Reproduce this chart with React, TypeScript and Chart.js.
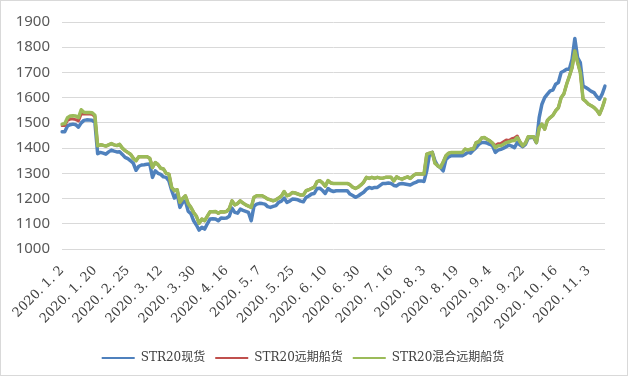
import React, { useEffect, useRef } from "react";
import { Chart, registerables } from "chart.js";

Chart.register(...registerables);

const tickLabels = [
  "2020. 1. 2", "2020. 1. 20", "2020. 2. 25", "2020. 3. 12", "2020. 3. 30",
  "2020. 4. 16", "2020. 5. 7", "2020. 5. 25", "2020. 6. 10", "2020. 6. 30",
  "2020. 7. 16", "2020. 8. 3", "2020. 8. 19", "2020. 9. 4", "2020. 9. 22",
  "2020. 10. 16", "2020. 11. 3",
];
const tickEvery = 12;

const seriesNames = ["STR20现货", "STR20远期船货", "STR20混合远期船货"];

const spot = [
  1465, 1465, 1488, 1493, 1495, 1493, 1483, 1500, 1510, 1512, 1511, 1510, 1502, 1378, 1383, 1380, 1376, 1385, 1392, 1388,
  1385, 1386, 1375, 1363, 1358, 1350, 1340, 1312, 1328, 1333, 1334, 1336, 1337, 1284, 1310, 1300, 1296, 1286, 1284, 1270,
  1232, 1202, 1218, 1165, 1185, 1191, 1150, 1140, 1112, 1095, 1075, 1086, 1079, 1100, 1119, 1120, 1119, 1112, 1123, 1122,
  1123, 1130, 1162, 1145, 1142, 1158, 1153, 1149, 1145, 1112, 1170, 1178, 1181, 1180, 1178, 1168, 1165, 1169, 1172, 1185,
  1190, 1202, 1185, 1190, 1198, 1197, 1195, 1190, 1187, 1205, 1210, 1218, 1220, 1240, 1241, 1232, 1220, 1240, 1232, 1228,
  1231, 1231, 1231, 1231, 1231, 1218, 1212, 1205, 1210, 1218, 1225, 1237, 1244, 1240, 1244, 1244, 1252, 1260, 1260, 1262,
  1260, 1252, 1250, 1258, 1260, 1258, 1256, 1254, 1260, 1264, 1270, 1270, 1268, 1310, 1375, 1383, 1350, 1330, 1323, 1310,
  1355, 1365, 1370, 1370, 1370, 1370, 1370, 1376, 1383, 1380, 1392, 1402, 1415, 1422, 1422, 1420, 1415, 1409, 1383, 1392,
  1395, 1400, 1406, 1412, 1408, 1402, 1422, 1412, 1406, 1415, 1440, 1442, 1442, 1422, 1521, 1574, 1600, 1614, 1627, 1630,
  1653, 1660, 1700, 1706, 1713, 1713, 1752, 1835, 1759, 1739, 1646, 1640, 1633, 1625, 1620, 1605, 1594, 1615, 1646,
];

const forward = [
  1490, 1490, 1510, 1515, 1515, 1513, 1508, 1535, 1535, 1535, 1535, 1534, 1525, 1409, 1413, 1411, 1408, 1413, 1418, 1413,
  1410, 1415, 1400, 1390, 1383, 1376, 1360, 1350, 1366, 1366, 1366, 1366, 1360, 1323, 1343, 1335, 1320, 1317, 1300, 1297,
  1244, 1231, 1235, 1185, 1200, 1211, 1180, 1165, 1145, 1130, 1102, 1119, 1112, 1130, 1148, 1148, 1149, 1142, 1148, 1147,
  1149, 1160, 1191, 1175, 1180, 1191, 1182, 1175, 1170, 1165, 1205, 1211, 1211, 1211, 1205, 1198, 1195, 1191, 1195, 1202,
  1210, 1228, 1211, 1215, 1224, 1222, 1218, 1214, 1214, 1231, 1235, 1240, 1245, 1267, 1271, 1262, 1249, 1271, 1262, 1260,
  1260, 1260, 1260, 1260, 1260, 1255, 1245, 1240, 1245, 1254, 1265, 1284, 1280, 1284, 1280, 1284, 1281, 1281, 1284, 1284,
  1284, 1270, 1286, 1280, 1277, 1282, 1286, 1280, 1290, 1297, 1297, 1297, 1297, 1376, 1380, 1383, 1340, 1330, 1323, 1345,
  1370, 1380, 1383, 1383, 1383, 1383, 1383, 1396, 1393, 1396, 1396, 1422, 1425, 1440, 1442, 1435, 1429, 1420, 1410, 1417,
  1418, 1425, 1432, 1430, 1437, 1440, 1448, 1425, 1409, 1420, 1445, 1445, 1445, 1422, 1480, 1495, 1475, 1510, 1521, 1530,
  1548, 1560, 1600, 1615, 1653, 1685, 1719, 1785, 1740, 1700, 1594, 1585, 1574, 1568, 1561, 1550, 1534, 1560, 1594,
];

const mixed = [
  1495, 1497, 1520, 1527, 1528, 1527, 1521, 1552, 1542, 1541, 1541, 1540, 1530, 1409, 1413, 1411, 1408, 1413, 1418, 1413,
  1410, 1415, 1400, 1390, 1383, 1376, 1360, 1350, 1366, 1366, 1366, 1366, 1360, 1323, 1343, 1335, 1320, 1317, 1300, 1297,
  1244, 1231, 1235, 1185, 1200, 1211, 1180, 1165, 1145, 1130, 1102, 1119, 1112, 1130, 1148, 1148, 1149, 1142, 1148, 1147,
  1149, 1160, 1191, 1175, 1180, 1191, 1182, 1175, 1170, 1165, 1205, 1211, 1211, 1211, 1205, 1198, 1195, 1191, 1195, 1202,
  1210, 1228, 1211, 1215, 1224, 1222, 1218, 1214, 1214, 1231, 1235, 1240, 1245, 1267, 1271, 1262, 1249, 1271, 1262, 1260,
  1260, 1260, 1260, 1260, 1260, 1255, 1245, 1240, 1245, 1254, 1265, 1284, 1280, 1284, 1280, 1284, 1281, 1281, 1284, 1284,
  1284, 1270, 1286, 1280, 1277, 1282, 1286, 1280, 1290, 1297, 1297, 1297, 1297, 1376, 1380, 1383, 1340, 1330, 1323, 1345,
  1370, 1380, 1383, 1383, 1383, 1383, 1383, 1396, 1393, 1396, 1396, 1422, 1425, 1440, 1442, 1435, 1429, 1420, 1402, 1409,
  1409, 1415, 1422, 1425, 1429, 1430, 1442, 1425, 1409, 1420, 1445, 1445, 1445, 1422, 1480, 1495, 1475, 1510, 1521, 1530,
  1548, 1560, 1600, 1615, 1653, 1685, 1719, 1785, 1740, 1700, 1594, 1585, 1574, 1568, 1561, 1550, 1534, 1560, 1594,
];

const colors = ["#4F81BD", "#C0504D", "#9BBB59"];

const categories = spot.map((_, i) =>
  i % tickEvery === 0 && tickLabels[i / tickEvery] ? tickLabels[i / tickEvery] : ""
);

export default function App() {
  const canvasRef = useRef<HTMLCanvasElement | null>(null);

  useEffect(() => {
    if (!canvasRef.current) return;
    const seriesData = [spot, forward, mixed];
    const widths = [3.5, 3, 3.5];
    const orders = [3, 2, 1];
    const chart = new Chart(canvasRef.current, {
      type: "line",
      data: {
        labels: categories,
        datasets: seriesNames.map((name, k) => ({
          label: name,
          data: seriesData[k],
          borderColor: colors[k],
          backgroundColor: colors[k],
          borderWidth: widths[k],
          pointRadius: 0,
          tension: 0,
          borderJoinStyle: "round" as const,
          borderCapStyle: "round" as const,
          order: orders[k],
        })),
      },
      options: {
        animation: false,
        responsive: true,
        maintainAspectRatio: false,
        layout: { padding: { top: 20, right: 22, bottom: 1, left: 0 } },
        plugins: {
          tooltip: { enabled: false },
          legend: {
            position: "bottom",
            labels: {
              usePointStyle: true,
              pointStyle: "line",
              pointStyleWidth: 33,
              padding: 10,
              color: "#404040",
              font: { family: "'DejaVu Serif', 'Noto Sans CJK SC'", size: 12 },
              generateLabels: () =>
                seriesNames.map((name, k) => ({
                  text: name,
                  strokeStyle: colors[k],
                  fillStyle: colors[k],
                  lineWidth: 2,
                  pointStyle: "line",
                  hidden: false,
                  datasetIndex: k,
                  fontColor: "#404040",
                })),
            },
          },
        },
        scales: {
          x: {
            grid: { display: false },
            border: { display: false },
            afterFit: (scale: any) => {
              scale.height = 93;
            },
            ticks: {
              autoSkip: false,
              minRotation: 45,
              maxRotation: 45,
              padding: 6,
              color: "#404040",
              font: { family: "'DejaVu Serif'", size: 13 },
              callback: (_v: any, i: number) => categories[i],
            },
          },
          y: {
            min: 1000,
            max: 1900,
            grid: { color: "#d9d9d9", lineWidth: 1, drawTicks: false },
            border: { display: false },
            afterFit: (scale: any) => {
              scale.width = 61;
            },
            ticks: {
              stepSize: 100,
              padding: 12,
              color: "#595959",
              font: { family: "'Noto Sans'", size: 15 },
              callback: (v: any) => String(v),
            },
          },
        },
      },
    });
    return () => chart.destroy();
  }, []);

  return (
    <div
      style={{
        position: "fixed",
        left: 0,
        top: 0,
        width: 628,
        height: 376,
        boxSizing: "border-box",
        border: "1px solid #d9d9d9",
        background: "#fff",
      }}
    >
      <canvas ref={canvasRef} />
    </div>
  );
}
